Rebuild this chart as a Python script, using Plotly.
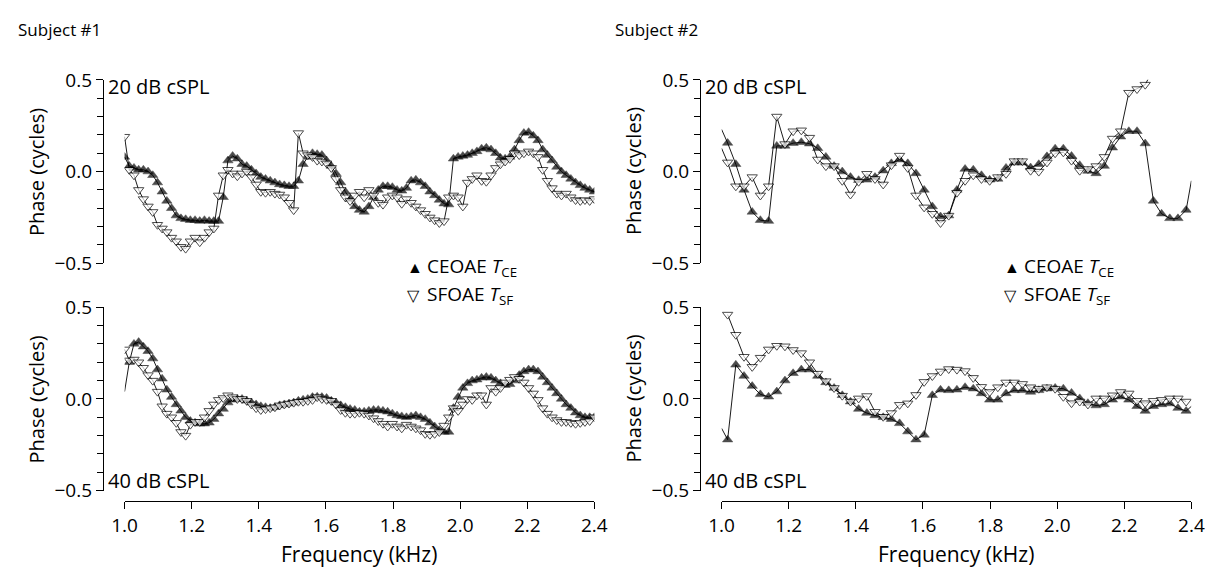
import numpy as np
import plotly.graph_objects as go

# ---------------- data ----------------
# Subject #1 sample frequencies (kHz)
freq_s1 = [round(1.0 + 0.014 * i, 3) for i in range(101)]

s1_20_ce = [0.08, 0.03, 0.02, 0.01, 0.01, 0.00, -0.02, -0.06, -0.11, -0.16,
            -0.20, -0.24, -0.255, -0.26, -0.265, -0.265, -0.27, -0.265, -0.27, -0.27,
            -0.27, -0.14, 0.06, 0.085, 0.07, 0.04, 0.03, 0.01, -0.01, -0.03,
            -0.04, -0.05, -0.06, -0.07, -0.075, -0.08, -0.08, -0.05, 0.04, 0.08,
            0.10, 0.095, 0.09, 0.06, 0.03, -0.01, -0.06, -0.11, -0.15, -0.19,
            -0.21, -0.22, -0.19, -0.14, -0.10, -0.08, -0.08, -0.085, -0.10, -0.105,
            -0.09, -0.05, -0.045, -0.06, -0.08, -0.11, -0.13, -0.155, -0.175, -0.18,
            0.07, 0.08, 0.085, 0.09, 0.10, 0.11, 0.125, 0.13, 0.12, 0.10,
            0.075, 0.07, 0.08, 0.12, 0.17, 0.21, 0.215, 0.195, 0.17, 0.12,
            0.09, 0.06, 0.025, 0.00, -0.02, -0.04, -0.06, -0.075, -0.09, -0.10,
            -0.11]
s1_20_sf = [0.19, 0.01, -0.02, -0.10, -0.15, -0.19, -0.22, -0.29, -0.31, -0.33,
            -0.36, -0.38, -0.41, -0.42, -0.38, -0.36, -0.385, -0.36, -0.33, -0.31,
            -0.13, -0.02, 0.01, -0.01, -0.025, -0.01, 0.00, -0.03, -0.07, -0.11,
            -0.115, -0.11, -0.12, -0.125, -0.14, -0.17, -0.21, 0.21, 0.10, 0.09,
            0.08, 0.06, 0.055, 0.045, 0.02, -0.04, -0.10, -0.14, -0.16, -0.13,
            -0.11, -0.14, -0.10, -0.13, -0.17, -0.18, -0.14, -0.13, -0.14, -0.175,
            -0.15, -0.17, -0.19, -0.21, -0.23, -0.25, -0.265, -0.28, -0.27, -0.14,
            -0.13, -0.14, -0.19, -0.06, -0.04, -0.02, -0.05, -0.055, -0.02, 0.02,
            0.04, 0.055, 0.07, 0.10, 0.09, 0.10, 0.11, 0.10, 0.08, 0.01,
            -0.05, -0.09, -0.12, -0.13, -0.12, -0.14, -0.155, -0.16, -0.155, -0.16,
            -0.15]
s1_40_ce = [0.04, 0.20, 0.30, 0.31, 0.285, 0.26, 0.22, 0.16, 0.11, 0.05,
            0.01, -0.03, -0.065, -0.10, -0.12, -0.13, -0.135, -0.135, -0.13, -0.11,
            -0.08, -0.055, -0.02, -0.005, 0.00, 0.00, -0.01, -0.02, -0.03, -0.04,
            -0.045, -0.05, -0.045, -0.035, -0.03, -0.025, -0.02, -0.01, -0.005, 0.00,
            0.01, 0.012, 0.01, 0.005, -0.01, -0.02, -0.035, -0.045, -0.055, -0.06,
            -0.07, -0.07, -0.065, -0.06, -0.06, -0.065, -0.07, -0.08, -0.09, -0.095,
            -0.10, -0.095, -0.09, -0.10, -0.11, -0.13, -0.15, -0.17, -0.18, -0.18,
            -0.05, 0.01, 0.06, 0.085, 0.10, 0.105, 0.115, 0.12, 0.115, 0.10,
            0.085, 0.075, 0.08, 0.10, 0.13, 0.15, 0.16, 0.16, 0.15, 0.12,
            0.09, 0.06, 0.03, 0.00, -0.03, -0.05, -0.075, -0.09, -0.10, -0.10,
            -0.10]
s1_40_sf = [0.27, 0.21, 0.215, 0.20, 0.17, 0.13, 0.10, 0.04, -0.04, -0.08,
            -0.10, -0.13, -0.18, -0.20, -0.14, -0.125, -0.125, -0.10, -0.065, -0.03,
            -0.005, 0.005, 0.02, 0.01, 0.00, 0.00, -0.01, -0.03, -0.05, -0.06,
            -0.055, -0.05, -0.045, -0.035, -0.03, -0.025, -0.02, -0.015, -0.015, -0.01,
            -0.005, 0.01, 0.00, -0.005, -0.01, -0.03, -0.06, -0.075, -0.08, -0.08,
            -0.075, -0.08, -0.09, -0.105, -0.12, -0.135, -0.15, -0.135, -0.15, -0.16,
            -0.14, -0.15, -0.16, -0.17, -0.19, -0.195, -0.19, -0.18, -0.145, -0.10,
            -0.05, -0.065, -0.03, 0.00, -0.005, 0.02, 0.02, -0.03, 0.06, 0.04,
            0.06, 0.09, 0.105, 0.12, 0.11, 0.09, 0.06, 0.03, -0.005, -0.05,
            -0.08, -0.10, -0.115, -0.125, -0.125, -0.13, -0.135, -0.13, -0.125, -0.12,
            -0.10]

# Subject #2 sample frequencies (kHz); first/last entries are line-only end points
freq_s2 = [1.0] + [round(1.018 + 0.0244 * k, 4) for k in range(57)] + [2.4]

s2_20_ce = [0.23,
            0.156, 0.04, -0.10, -0.22, -0.265, -0.27, 0.14, 0.14, 0.155, 0.16,
            0.152, 0.127, 0.08, 0.03, 0.00, -0.03, -0.047, -0.045, -0.03, 0.005,
            0.045, 0.065, 0.045, -0.01, -0.10, -0.19, -0.245, -0.24, -0.10, 0.014,
            0.01, -0.02, -0.045, -0.04, 0.02, 0.048, 0.048, 0.022, 0.04, 0.083,
            0.125, 0.125, 0.085, 0.035, 0.003, -0.01, 0.03, 0.13, 0.19, 0.22,
            0.22, 0.153, -0.16, -0.23, -0.255, -0.255, -0.21,
            -0.05]
s2_20_sf = [0.127,
            0.05, -0.08, -0.08, -0.03, -0.13, -0.08, 0.30, 0.15, 0.22, 0.225,
            0.185, 0.066, 0.03, 0.03, -0.05, -0.125, -0.055, -0.012, -0.04, -0.07,
            0.035, 0.087, 0.02, -0.13, -0.195, -0.23, -0.28, -0.24, -0.115, -0.05,
            -0.02, -0.04, -0.05, -0.03, -0.012, 0.057, 0.057, 0.005, 0.00, 0.05,
            0.10, 0.105, 0.06, 0.005, 0.014, 0.03, 0.08, 0.18, 0.22, 0.43,
            0.45, 0.474, 0.56, None, None, None, None,
            None]
s2_40_ce = [-0.16,
            -0.222, 0.186, 0.125, 0.07, 0.025, 0.012, 0.04, 0.10, 0.14, 0.16,
            0.16, 0.125, 0.09, 0.06, 0.02, -0.015, -0.055, -0.077, -0.09, -0.10,
            -0.11, -0.133, -0.178, -0.222, -0.196, 0.02, 0.05, 0.047, 0.05, 0.064,
            0.056, 0.03, -0.005, -0.005, 0.03, 0.047, 0.047, 0.038, 0.047, 0.056,
            0.06, 0.056, 0.033, 0.003, -0.023, -0.036, -0.03, -0.005, 0.012, -0.005,
            -0.04, -0.066, -0.04, -0.03, -0.025, -0.05, -0.066,
            -0.04]
s2_40_sf = [None,
            0.46, 0.35, 0.23, 0.175, 0.225, 0.27, 0.29, 0.287, 0.267, 0.25,
            0.20, 0.138, 0.097, 0.06, 0.018, -0.014, 0.003, 0.016, -0.07, -0.097,
            -0.077, -0.032, -0.024, 0.022, 0.093, 0.125, 0.15, 0.163, 0.16, 0.152,
            0.115, 0.066, 0.038, 0.064, 0.09, 0.09, 0.082, 0.064, 0.056, 0.064,
            0.056, 0.012, -0.023, -0.014, -0.03, 0.003, 0.003, 0.02, 0.038, 0.03,
            -0.01, -0.023, -0.01, -0.005, 0.003, 0.003, -0.014,
            None]

x_ticks = [1.0, 1.2, 1.4, 1.6, 1.8, 2.0, 2.2, 2.4]
y_ticks = [-0.5, 0.0, 0.5]
y_ticktext = ["\u22120.5", "0.0", "0.5"]
y_minor_ticks = [-0.4, -0.3, -0.2, -0.1, 0.1, 0.2, 0.3, 0.4]

# ---------------- layout geometry (pixels -> paper) ----------------
W, H = 1222, 582
def px(x):
    return x / W
def py(y):
    return 1 - y / H

XDOM_L = [px(114), px(594)]
XDOM_R = [px(724), px(1204)]
YDOM_T = [py(262), py(70)]
YDOM_B = [py(500), py(308)]
YPOS_L = px(92)
YPOS_R = px(702)
XPOS_B = py(511)

FONT = "Open Sans"
fig = go.Figure()

panels = [
    ("x", "y", freq_s1, s1_20_ce, s1_20_sf, [], []),
    ("x2", "y2", freq_s2, s2_20_ce, s2_20_sf, [0, len(freq_s2) - 1], [0, 53]),
    ("x3", "y3", freq_s1, s1_40_ce, s1_40_sf, [0], []),
    ("x4", "y4", freq_s2, s2_40_ce, s2_40_sf, [0, len(freq_s2) - 1], []),
]

MS = 9
for xa, ya, f, ce, sf, lo_ce, lo_sf in panels:
    sz_ce = [0 if i in lo_ce else MS for i in range(len(f))]
    sz_sf = [0 if i in lo_sf else MS for i in range(len(f))]
    fig.add_trace(go.Scatter(
        x=f, y=ce, xaxis=xa, yaxis=ya, mode="lines+markers",
        line=dict(color="black", width=0.9),
        marker=dict(symbol="triangle-up", size=sz_ce, color="black",
                    line=dict(color="black", width=0.5)),
        connectgaps=False, showlegend=False, hoverinfo="skip"))
    fig.add_trace(go.Scatter(
        x=f, y=sf, xaxis=xa, yaxis=ya, mode="lines+markers",
        line=dict(color="black", width=0.9),
        marker=dict(symbol="triangle-down", size=sz_sf, color="white",
                    line=dict(color="black", width=1)),
        connectgaps=False, showlegend=False, hoverinfo="skip"))

tickfont = dict(family=FONT, size=19, color="black")

def xaxis_cfg(domain, visible):
    return dict(domain=domain, range=[1.0, 2.4], tickvals=x_ticks,
                tickformat=".1f", ticks="outside", ticklen=7, tickwidth=1.3,
                showline=True, linewidth=1.3, linecolor="black", tickcolor="black",
                showgrid=False, zeroline=False, tickfont=tickfont,
                anchor="free", position=XPOS_B, visible=visible, fixedrange=True)

def yaxis_cfg(domain, pos):
    return dict(domain=domain, range=[-0.5, 0.5], tickmode="array",
                tickvals=y_ticks, ticktext=y_ticktext,
                ticks="outside", ticklen=7, tickwidth=1.2, tickcolor="black",
                minor=dict(tickmode="array", tickvals=y_minor_ticks, ticks="outside",
                           ticklen=6, tickwidth=1.1, tickcolor="black", showgrid=False),
                showline=True, linewidth=1.3, linecolor="black",
                showgrid=False, zeroline=False, tickfont=tickfont,
                anchor="free", position=pos, fixedrange=True)

fig.update_layout(
    width=W, height=H, margin=dict(l=0, r=0, t=0, b=0),
    paper_bgcolor="white", plot_bgcolor="white", showlegend=False,
    font=dict(family=FONT, color="black"),
    xaxis=xaxis_cfg(XDOM_L, False),
    xaxis2=xaxis_cfg(XDOM_R, False),
    xaxis3=xaxis_cfg(XDOM_L, True),
    xaxis4=xaxis_cfg(XDOM_R, True),
    yaxis=yaxis_cfg(YDOM_T, YPOS_L),
    yaxis2=yaxis_cfg(YDOM_T, YPOS_R),
    yaxis3=yaxis_cfg(YDOM_B, YPOS_L),
    yaxis4=yaxis_cfg(YDOM_B, YPOS_R),
)

ann = []
def text(x, y, s, size, xanchor="left", angle=0):
    ann.append(dict(x=px(x), y=py(y), xref="paper", yref="paper", text=s,
                    showarrow=False, xanchor=xanchor, yanchor="middle",
                    borderpad=0,
                    textangle=angle, font=dict(family=FONT, size=size, color="black")))

text(4, 17, "Subject #1", 17)
text(614, 17, "Subject #2", 17)
for x0 in (0, 610):
    text(24 + x0, 166, "Phase (cycles)", 20, xanchor="center", angle=-90)
    text(24 + x0, 404, "Phase (cycles)", 20, xanchor="center", angle=-90)
    text(96 + x0, 77, "20 dB cSPL", 20)
    text(96 + x0, 489, "40 dB cSPL", 20)
    text(354 + x0, 566, "Frequency (kHz)", 21, xanchor="center")
    text(402 + x0, 266, "\u25B2", 16)
    text(402 + x0, 295, "\u25BD", 16)
    text(422 + x0, 266, "CEOAE <i>T</i><sub>CE</sub>", 19)
    text(422 + x0, 295, "SFOAE <i>T</i><sub>SF</sub>", 19)
fig.update_layout(annotations=ann)

fig.write_html("out.html")
